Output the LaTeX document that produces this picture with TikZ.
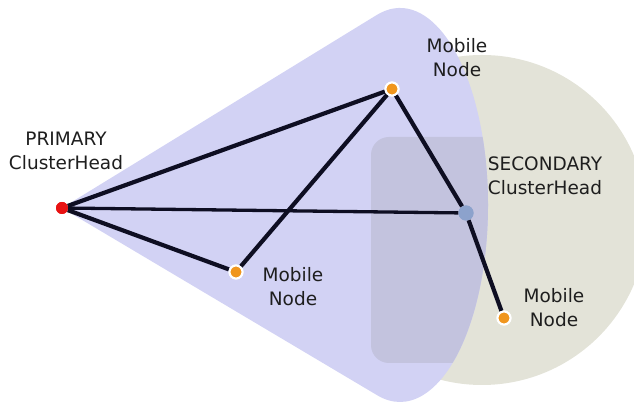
\documentclass[tikz,border=0pt]{standalone}
\usepackage{fontspec}
\newfontfamily\lblfont{DejaVu Sans}
\definecolor{conepurple}{RGB}{210,210,244}
\definecolor{coredark}{RGB}{195,195,222}
\definecolor{rangegray}{RGB}{227,227,216}
\definecolor{linkcol}{RGB}{14,14,34}
\definecolor{headred}{RGB}{232,18,18}
\definecolor{mobileorange}{RGB}{240,150,30}
\definecolor{secblue}{RGB}{140,162,204}
\definecolor{labelgray}{RGB}{30,30,30}
\begin{document}
\begin{tikzpicture}[x=1pt,y=1pt,
  link/.style={line width=4.2pt, draw=linkcol},
  thinlink/.style={line width=3.3pt, draw=linkcol},
  mobile/.style={circle, fill=mobileorange, draw=white, line width=2pt,
    minimum size=13pt, inner sep=0pt},
  primaryhead/.style={circle, fill=headred, minimum size=12pt, inner sep=0pt},
  secondaryhead/.style={circle, fill=secblue, minimum size=15pt, inner sep=0pt},
  lbl/.style={font=\lblfont\fontsize{18.5}{24}\selectfont, align=center,
    inner sep=0pt, text=labelgray, anchor=base}]
\useasboundingbox (0,0) rectangle (634,403);
\clip (0,0) rectangle (634,403);

% coverage of the secondary cluster head
\fill[rangegray] (482,183) circle[radius=165pt];

% coverage cone of the primary cluster head
\fill[conepurple] (62,195) -- (376.75,388)
  arc[start angle=105.32, end angle=-104.86, x radius=88pt, y radius=197pt] -- cycle;

% denser core of the cone
\begin{scope}
  \clip (400,198) ellipse[x radius=88pt, y radius=197pt];
  \fill[coredark, rounded corners=18pt] (371,40) rectangle (520,266);
\end{scope}

% nodes
\node[primaryhead]   (P) at (62,195)  {};
\node[mobile]        (T) at (392,314) {};
\node[mobile]        (L) at (236,131) {};
\node[secondaryhead] (S) at (466,190) {};
\node[mobile]        (R) at (504,85)  {};

% links
\draw[link] (P) -- (T);
\draw[thinlink] (P) -- (S);
\draw[link] (P) -- (L);
\draw[link] (L) -- (T);
\draw[link] (T) -- (S);
\draw[link] (S) -- (R);

% redraw the dots over the link ends
\node[primaryhead]   at (P) {};
\node[mobile]        at (T) {};
\node[mobile]        at (L) {};
\node[secondaryhead] at (S) {};
\node[mobile]        at (R) {};

% labels (anchored at the baseline of the second line)
\node[lbl] (lp) at (66,233)  {PRIMARY\\ClusterHead};
\node[lbl] (lt) at (457,326) {Mobile\\Node};
\node[lbl] (ls) at (545,208) {SECONDARY\\ClusterHead};
\node[lbl] (ll) at (293,97)  {Mobile\\Node};
\node[lbl] (lr) at (554,76)  {Mobile\\Node};
\end{tikzpicture}
\end{document}
